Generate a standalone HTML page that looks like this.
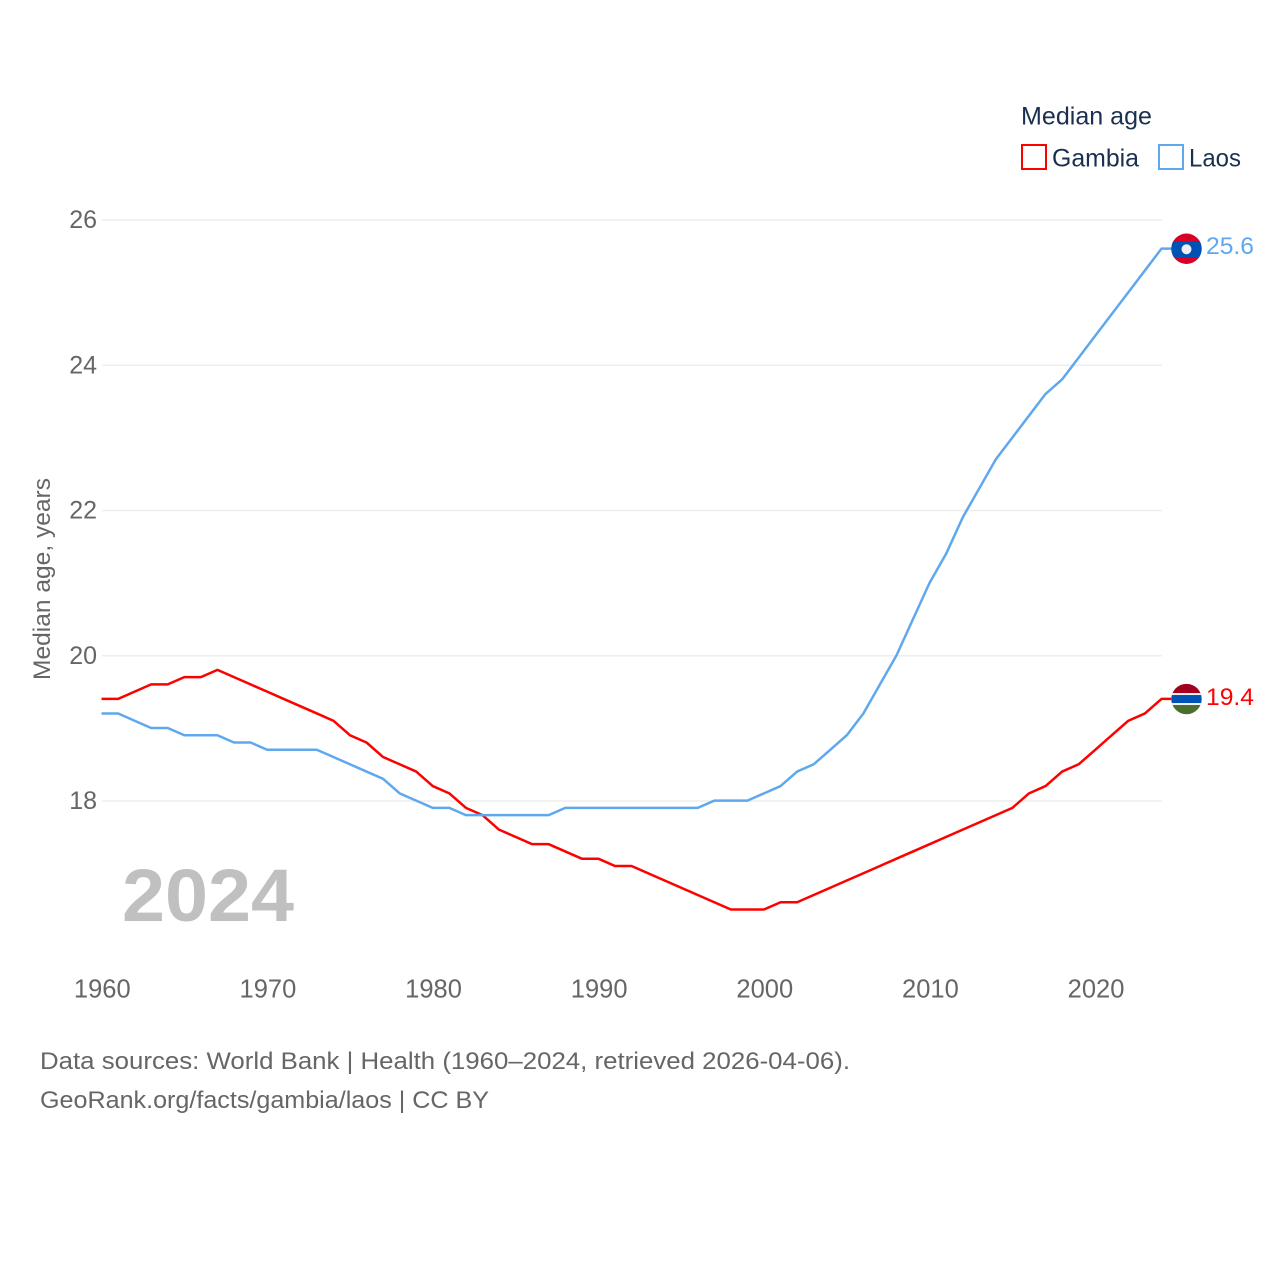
<!DOCTYPE html>
<html lang="en">
<head>
<meta charset="utf-8">
<title>Median age: Gambia and Laos</title>
<style>
html,body{margin:0;padding:0;background:#fff;}
svg{display:block;font-family:"Liberation Sans",sans-serif;}
</style>
</head>
<body>
<svg id="chart" width="1280" height="1280" viewBox="0 0 1280 1280" xmlns="http://www.w3.org/2000/svg">
  <defs>
    <clipPath id="flag-clip"><circle cx="0" cy="0" r="15.2"></circle></clipPath>
  </defs>
  <rect x="0" y="0" width="1280" height="1280" fill="#ffffff"></rect>
  <g id="grid"></g>
  <g id="y-ticks"></g>
  <g id="x-ticks"></g>
  <text transform="translate(50,680) rotate(-90)" font-size="24" fill="#666666" textLength="202" lengthAdjust="spacingAndGlyphs">Median age, years</text>
  <text x="122" y="921" font-size="74" font-weight="700" fill="#c0c0c0" textLength="172" lengthAdjust="spacingAndGlyphs">2024</text>

  <path id="line-gambia" transform="translate(-0.5,-0.4)" fill="none" stroke="#ff0000" stroke-width="2.5" stroke-linejoin="round"></path>
  <path id="line-laos" transform="translate(-0.5,-0.4)" fill="none" stroke="#5fa8ee" stroke-width="2.5" stroke-linejoin="round"></path>

  <g id="flag-laos" clip-path="url(#flag-clip)">
    <rect x="-16" y="-16" width="32" height="32" fill="#d80027"></rect>
    <rect x="-16" y="-7.5" width="32" height="16.5" fill="#0052b4"></rect>
    <circle cx="0" cy="0.5" r="5" fill="#f0f0f0"></circle>
  </g>
  <g id="flag-gambia" clip-path="url(#flag-clip)">
    <rect x="-16" y="-16" width="32" height="11" fill="#a2001d"></rect>
    <rect x="-16" y="-6" width="32" height="12" fill="#f0f0f0"></rect>
    <rect x="-16" y="-4" width="32" height="8" fill="#0052b4"></rect>
    <rect x="-16" y="6" width="32" height="10" fill="#496e2d"></rect>
  </g>
  <text id="value-laos" x="1206" font-size="24.5" fill="#5fa8ee" textLength="48" lengthAdjust="spacingAndGlyphs"></text>
  <text id="value-gambia" x="1206" font-size="24.5" fill="#ff0000" textLength="48" lengthAdjust="spacingAndGlyphs"></text>

  <g>
    <text x="1021" y="124.5" font-size="25" fill="#1b2f4f" textLength="131" lengthAdjust="spacingAndGlyphs">Median age</text>
    <g>
      <rect x="1022" y="145" width="24" height="24" fill="#ffffff" stroke="#ff0000" stroke-width="2"></rect>
      <text x="1052" y="166.5" font-size="25" fill="#1b2f4f" textLength="87" lengthAdjust="spacingAndGlyphs">Gambia</text>
    </g>
    <g>
      <rect x="1159" y="145" width="24" height="24" fill="#ffffff" stroke="#5fa8ee" stroke-width="2"></rect>
      <text x="1189" y="166.5" font-size="25" fill="#1b2f4f" textLength="52" lengthAdjust="spacingAndGlyphs">Laos</text>
    </g>
  </g>

  <g>
    <text x="40" y="1069" font-size="24.5" fill="#666666" textLength="810" lengthAdjust="spacingAndGlyphs">Data sources: World Bank | Health (1960–2024, retrieved 2026-04-06).</text>
    <text x="40" y="1108" font-size="24.5" fill="#666666" textLength="449" lengthAdjust="spacingAndGlyphs">GeoRank.org/facts/gambia/laos | CC BY</text>
  </g>
</svg>
<script>
const years = [1960,1961,1962,1963,1964,1965,1966,1967,1968,1969,1970,1971,1972,1973,1974,1975,1976,1977,1978,1979,1980,1981,1982,1983,1984,1985,1986,1987,1988,1989,1990,1991,1992,1993,1994,1995,1996,1997,1998,1999,2000,2001,2002,2003,2004,2005,2006,2007,2008,2009,2010,2011,2012,2013,2014,2015,2016,2017,2018,2019,2020,2021,2022,2023,2024];
const gambia = [19.4,19.4,19.5,19.6,19.6,19.7,19.7,19.8,19.7,19.6,19.5,19.4,19.3,19.2,19.1,18.9,18.8,18.6,18.5,18.4,18.2,18.1,17.9,17.8,17.6,17.5,17.4,17.4,17.3,17.2,17.2,17.1,17.1,17.0,16.9,16.8,16.7,16.6,16.5,16.5,16.5,16.6,16.6,16.7,16.8,16.9,17.0,17.1,17.2,17.3,17.4,17.5,17.6,17.7,17.8,17.9,18.1,18.2,18.4,18.5,18.7,18.9,19.1,19.2,19.4];
const laos = [19.2,19.2,19.1,19.0,19.0,18.9,18.9,18.9,18.8,18.8,18.7,18.7,18.7,18.7,18.6,18.5,18.4,18.3,18.1,18.0,17.9,17.9,17.8,17.8,17.8,17.8,17.8,17.8,17.9,17.9,17.9,17.9,17.9,17.9,17.9,17.9,17.9,18.0,18.0,18.0,18.1,18.2,18.4,18.5,18.7,18.9,19.2,19.6,20.0,20.5,21.0,21.4,21.9,22.3,22.7,23.0,23.3,23.6,23.8,24.1,24.4,24.7,25.0,25.3,25.6];
const yTickValues = [18,20,22,24,26];
const xTickValues = [1960,1970,1980,1990,2000,2010,2020];

const SVG_NS = 'http://www.w3.org/2000/svg';
function xScale(year) { return 102 + (year - 1960) * (1162 - 102) / (2024 - 1960); }
function yScale(value) { return 801 - (value - 18) * (801 - 220) / (26 - 18); }

function linePath(values) {
  let d = '';
  values.forEach(function (v, i) {
    d += (i === 0 ? 'M' : 'L') + xScale(years[i]).toFixed(2) + ' ' + yScale(v).toFixed(2);
  });
  const last = values[values.length - 1];
  d += 'L' + (xScale(years[years.length - 1]) + 12).toFixed(2) + ' ' + yScale(last).toFixed(2);
  return d;
}

const gridGroup = document.getElementById('grid');
const yTickGroup = document.getElementById('y-ticks');
yTickValues.forEach(function (v) {
  const line = document.createElementNS(SVG_NS, 'line');
  
  
  line.setAttribute('x1', xScale(1960));
  line.setAttribute('x2', xScale(2024));
  line.setAttribute('y1', yScale(v));
  line.setAttribute('y2', yScale(v));
  line.setAttribute('stroke', '#eeeeee');
  line.setAttribute('stroke-width', '1.5');
  gridGroup.appendChild(line);

  const label = document.createElementNS(SVG_NS, 'text');
  
  
  label.setAttribute('x', 97);
  label.setAttribute('y', yScale(v) + 8);
  label.setAttribute('text-anchor', 'end');
  label.setAttribute('font-size', '25');
  label.setAttribute('fill', '#666666');
  label.textContent = String(v);
  yTickGroup.appendChild(label);
});

const xTickGroup = document.getElementById('x-ticks');
xTickValues.forEach(function (yr) {
  const label = document.createElementNS(SVG_NS, 'text');
  
  
  label.setAttribute('x', xScale(yr) + 0.3);
  label.setAttribute('y', 997.5);
  label.setAttribute('text-anchor', 'middle');
  label.setAttribute('font-size', '25.5');
  label.setAttribute('fill', '#666666');
  label.textContent = String(yr);
  xTickGroup.appendChild(label);
});

document.getElementById('line-gambia').setAttribute('d', linePath(gambia));
document.getElementById('line-laos').setAttribute('d', linePath(laos));

const gambiaLast = gambia[gambia.length - 1];
const laosLast = laos[laos.length - 1];
document.getElementById('flag-gambia').setAttribute('transform', 'translate(1186.5,' + (yScale(gambiaLast) - 0.3) + ')');
document.getElementById('flag-laos').setAttribute('transform', 'translate(1186.5,' + (yScale(laosLast) - 0.3) + ')');
const valueGambia = document.getElementById('value-gambia');
valueGambia.setAttribute('y', yScale(gambiaLast) + 5.5);
valueGambia.textContent = gambiaLast.toFixed(1);
const valueLaos = document.getElementById('value-laos');
valueLaos.setAttribute('y', yScale(laosLast) + 5);
valueLaos.textContent = laosLast.toFixed(1);
</script>
</body>
</html>
